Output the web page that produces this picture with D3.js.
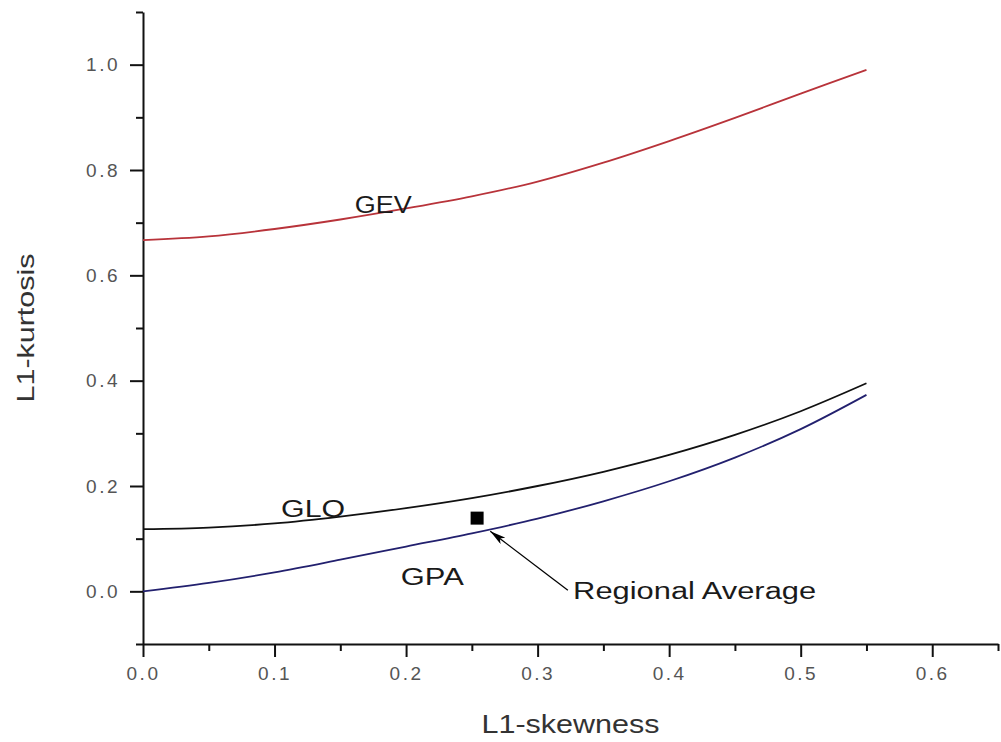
<!DOCTYPE html>
<html>
<head>
<meta charset="utf-8">
<script src="https://cdn.jsdelivr.net/npm/d3@7"></script>
<style>
  body { margin: 0; background: #fff; }
  svg { display: block; font-family: "Liberation Sans", Arial, sans-serif; }
  .axis path, .axis line { stroke: #111; stroke-width: 2px; }
  .axis text { fill: #555; font-size: 19px; letter-spacing: 2.5px; }
</style>
</head>
<body>
<svg width="1001" height="742"></svg>
<script>
'use strict';

// L1-skewness positions the curves were read at
var skew = [0, 0.05, 0.1, 0.15, 0.2, 0.25, 0.3, 0.35, 0.4, 0.45, 0.5, 0.55];
// L1-kurtosis
var gev = [0.667, 0.674, 0.688, 0.706, 0.727, 0.750, 0.778, 0.814, 0.855, 0.899, 0.945, 0.990];
var glo = [0.118, 0.121, 0.129, 0.142, 0.158, 0.177, 0.200, 0.227, 0.259, 0.297, 0.342, 0.395];
var gpa = [0.000, 0.016, 0.036, 0.060, 0.085, 0.110, 0.138, 0.171, 0.209, 0.254, 0.308, 0.373];

var regional = [0.254, 0.139];          // regional average (skew, kurt)
var arrowFrom = [0.323, 0.002], arrowTo = [0.264, 0.114];

var xTicks = [0, 0.1, 0.2, 0.3, 0.4, 0.5, 0.6];
var xMinor = [0.05, 0.15, 0.25, 0.35, 0.45, 0.55, 0.65];
var yTicks = [0, 0.2, 0.4, 0.6, 0.8, 1.0];
var yMinor = [-0.1, 0.1, 0.3, 0.5, 0.7, 0.9, 1.1];

var svg = d3.select("svg"),
    margin = {top: 12, right: 3, bottom: 98, left: 143},
    width = +svg.attr("width") - margin.left - margin.right,
    height = +svg.attr("height") - margin.top - margin.bottom;

var x = d3.scaleLinear().domain([0, 0.65]).range([0, width]);
var y = d3.scaleLinear().domain([-0.1, 1.1]).range([height, 0]);

var g = svg.append("g")
    .attr("transform", "translate(" + margin.left + "," + margin.top + ")");

var fmt = d3.format(".1f");

// minor ticks first, then major axes on top
g.append("g")
    .attr("class", "axis")
    .attr("transform", "translate(0," + height + ")")
    .call(d3.axisBottom(x).tickValues(xMinor).tickSize(7).tickFormat(""))
    .select(".domain").remove();
g.append("g")
    .attr("class", "axis")
    .call(d3.axisLeft(y).tickValues(yMinor).tickSize(7).tickFormat(""))
    .select(".domain").remove();

g.append("g")
    .attr("class", "axis")
    .attr("transform", "translate(0," + height + ")")
    .call(d3.axisBottom(x).tickValues(xTicks).tickSize(13).tickSizeOuter(0)
      .tickPadding(10).tickFormat(fmt));

g.append("g")
    .attr("class", "axis")
    .call(d3.axisLeft(y).tickValues(yTicks).tickSize(13).tickSizeOuter(0)
      .tickPadding(10).tickFormat(fmt));

// curves
var line = d3.line()
    .x(function(d) { return x(d[0]); })
    .y(function(d) { return y(d[1]); })
    .curve(d3.curveCatmullRom);

var series = [
  {name: "GEV", values: gev, color: "#b8333a"},
  {name: "GLO", values: glo, color: "#111111"},
  {name: "GPA", values: gpa, color: "#22206e"}
];

series.forEach(function(s) {
  g.append("path")
      .datum(skew.map(function(v, i) { return [v, s.values[i]]; }))
      .attr("fill", "none")
      .attr("stroke", s.color)
      .attr("stroke-width", 1.8)
      .attr("d", line);
});

// regional average marker
g.append("rect")
    .attr("x", x(regional[0]) - 6.5)
    .attr("y", y(regional[1]) - 6.5)
    .attr("width", 13)
    .attr("height", 13)
    .attr("fill", "#000");

// arrow
svg.append("defs").append("marker")
    .attr("id", "head")
    .attr("viewBox", "0 0 16 8")
    .attr("refX", 16).attr("refY", 4)
    .attr("markerWidth", 16).attr("markerHeight", 8)
    .attr("markerUnits", "userSpaceOnUse")
    .attr("orient", "auto")
  .append("path")
    .attr("d", "M0,0L16,4L0,8L4,4Z")
    .attr("fill", "#000");

g.append("line")
    .attr("x1", x(arrowFrom[0])).attr("y1", y(arrowFrom[1]))
    .attr("x2", x(arrowTo[0])).attr("y2", y(arrowTo[1]))
    .attr("stroke", "#000")
    .attr("stroke-width", 1.3)
    .attr("marker-end", "url(#head)");

// curve labels
var labels = [
  {text: "GEV", at: [0.161, 0.719], len: 57},
  {text: "GLO", at: [0.105, 0.141], len: 64},
  {text: "GPA", at: [0.196, 0.012], len: 63},
  {text: "Regional Average", at: [0.327, -0.015], len: 243}
];

g.selectAll(".lbl")
  .data(labels)
  .enter().append("text")
    .attr("class", "lbl")
    .attr("x", function(d) { return x(d.at[0]); })
    .attr("y", function(d) { return y(d.at[1]); })
    .attr("textLength", function(d) { return d.len; })
    .attr("lengthAdjust", "spacingAndGlyphs")
    .style("font-size", "23px")
    .style("fill", "#1a1a1a")
    .text(function(d) { return d.text; });

// axis titles
svg.append("text")
    .attr("x", margin.left + width / 2)
    .attr("y", 733)
    .attr("text-anchor", "middle")
    .attr("textLength", 178)
    .attr("lengthAdjust", "spacingAndGlyphs")
    .style("font-size", "25px")
    .style("fill", "#333")
    .text("L1-skewness");

svg.append("text")
    .attr("transform", "translate(34," + (margin.top + height / 2) + ") rotate(-90)")
    .attr("text-anchor", "middle")
    .attr("textLength", 149)
    .attr("lengthAdjust", "spacingAndGlyphs")
    .style("font-size", "24px")
    .style("fill", "#333")
    .text("L1-kurtosis");
</script>
</body>
</html>
